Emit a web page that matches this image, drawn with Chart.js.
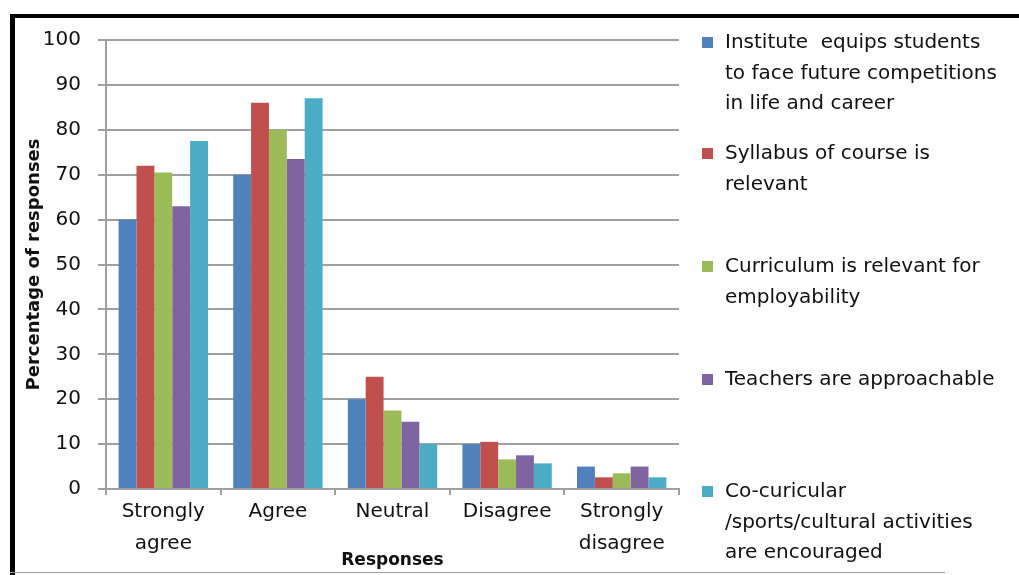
<!DOCTYPE html>
<html>
<head>
<meta charset="utf-8">
<script src="https://cdn.jsdelivr.net/npm/chart.js@4"></script>
<style>
    html, body { margin: 0; padding: 0; background: #fff; }
    #wrap { position: relative; width: 1019px; height: 575px; overflow: hidden; }
    #frameLeft { position: absolute; left: 10px; top: 14px; width: 5px; height: 561px; background: #000; }
    #frameTop { position: absolute; left: 10px; top: 14px; width: 1009px; height: 4px; background: #000; }
    #frameBottom { position: absolute; left: 10px; top: 572px; width: 935px; height: 1px; background: #999; }
</style>
</head>
<body>
<div id="wrap">
    <canvas id="chart" width="1019" height="575"></canvas>
    <div id="frameLeft"></div>
    <div id="frameTop"></div>
    <div id="frameBottom"></div>
</div>
<script>
// Categories on the x axis
const categories = [['Strongly', 'agree'], 'Agree', 'Neutral', 'Disagree', ['Strongly', 'disagree']];

// Series names (legend, wrapped as in the original)
const seriesNames = [
    ['Institute  equips students', 'to face future competitions', 'in life and career'],
    ['Syllabus of course is', 'relevant'],
    ['Curriculum is relevant for', 'employability'],
    ['Teachers are approachable'],
    ['Co-curicular', '/sports/cultural activities', 'are encouraged']
];

// Percentage of responses, per series
const instituteEquips = [60, 70, 20, 10, 5];
const syllabusRelevant = [72, 86, 25, 10.5, 2.6];
const curriculumRelevant = [70.5, 80, 17.5, 6.6, 3.5];
const teachersApproachable = [63, 73.5, 15, 7.5, 5];
const coCurricular = [77.5, 87, 10, 5.7, 2.6];

const seriesColors = ['#4F81BD', '#C0504D', '#9BBB59', '#8064A2', '#4BACC6'];

// y axis ticks
const yMin = 0, yMax = 100, yStep = 10;

const FONT = "'DejaVu Sans', sans-serif";
const gridGray = '#a0a0a0';

// Draws the wrapped legend on the right side
const sideLegend = {
    id: 'sideLegend',
    afterDraw(chart) {
        const ctx = chart.ctx;
        const tops = [43, 154, 267, 380, 492];
        const lineH = 30.5;
        ctx.save();
        ctx.font = '20px ' + FONT;
        ctx.textBaseline = 'middle';
        ctx.textAlign = 'left';
        chart.data.datasets.forEach((ds, i) => {
            const y = tops[i];
            ctx.fillStyle = ds.backgroundColor;
            ctx.fillRect(702, y - 6, 11, 11);
            ctx.fillStyle = '#111';
            ds.label.forEach((line, j) => {
                ctx.fillText(line, 725, y + j * lineH);
            });
        });
        ctx.restore();
    }
};

const datasets = [instituteEquips, syllabusRelevant, curriculumRelevant, teachersApproachable, coCurricular]
    .map((vals, i) => ({
        label: seriesNames[i],
        data: vals,
        backgroundColor: seriesColors[i],
        borderWidth: 0,
        categoryPercentage: 0.78,
        barPercentage: 1.0
    }));

new Chart(document.getElementById('chart').getContext('2d'), {
    type: 'bar',
    data: { labels: categories, datasets: datasets },
    options: {
        responsive: false,
        animation: false,
        layout: { padding: { left: 16, right: 340, top: 40, bottom: 4 } },
        plugins: {
            legend: { display: false },
            tooltip: { enabled: false }
        },
        scales: {
            x: {
                afterFit(scale) { scale.height = 82; },
                grid: { display: true, drawOnChartArea: false, drawTicks: true, tickLength: 6, color: gridGray, lineWidth: 2, offset: true },
                border: { display: true, color: gridGray, width: 2 },
                ticks: { color: '#111', font: { family: FONT, size: 20, lineHeight: 1.6 }, padding: 1, maxRotation: 0, autoSkip: false },
                title: { display: true, text: 'Responses', color: '#111', font: { family: FONT, size: 17, weight: 'bold' }, padding: { top: 0, bottom: 0 } }
            },
            y: {
                min: yMin,
                max: yMax,
                afterFit(scale) { scale.width = 90; },
                grid: { color: gridGray, lineWidth: 2, tickLength: 8 },
                border: { display: true, color: gridGray, width: 2 },
                ticks: { stepSize: yStep, color: '#111', font: { family: FONT, size: 20 }, padding: 17 },
                title: { display: true, text: 'Percentage of responses', color: '#111', font: { family: FONT, size: 18, weight: 'bold' }, padding: { top: 8, bottom: 0 } }
            }
        }
    },
    plugins: [sideLegend]
});
</script>
</body>
</html>
